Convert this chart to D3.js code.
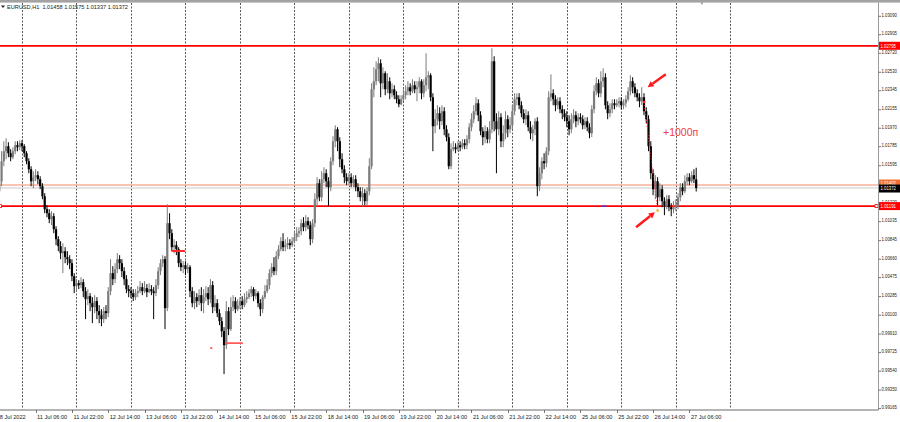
<!DOCTYPE html>
<html><head><meta charset="utf-8">
<script src="https://cdn.jsdelivr.net/npm/d3@7"></script>
<style>html,body{margin:0;padding:0;background:#fff;}svg{display:block;}</style>
</head><body>
<script>
// ===== DATA (EURUSD H1, 8 Jul 14:00 .. 27 Jul 09:00) =====
const title = "EURUSD,H1  1.01458 1.01575 1.01337 1.01372";
const open = [
1.0134,1.0144,1.0164,1.0174,1.0179,1.0172,1.0168,1.0174,1.0180,1.0178,
1.0182,1.0179,1.0172,1.0164,1.0156,1.0144,1.0148,1.0150,1.0146,1.0139,1.0129,1.0116,1.0112,1.0106,1.0109,1.0096,1.0086,1.0079,1.0072,1.0074,1.0068,1.0066,1.0062,1.0049,
1.0039,1.0042,1.0040,1.0043,1.0034,1.0026,1.0029,1.0022,1.0018,1.0024,1.0014,1.0010,1.0006,1.0014,1.0012,1.0034,1.0052,1.0046,1.0056,1.0066,1.0062,1.0054,1.0046,1.0036,
1.0034,1.0032,1.0028,1.0032,1.0034,1.0038,1.0034,1.0037,1.0033,1.0036,1.0034,1.0032,1.0040,1.0054,1.0062,1.0066,1.0017,1.0102,1.0092,1.0078,1.0080,1.0076,1.0062,1.0058,
1.0060,1.0056,1.0058,1.0034,1.0022,1.0028,1.0024,1.0030,1.0022,1.0028,1.0032,1.0026,1.0040,1.0018,1.0022,1.0012,1.0004,0.9994,0.9980,1.0014,0.9996,1.0018,1.0024,1.0016,
1.0020,1.0024,1.0020,1.0026,1.0028,1.0032,1.0036,1.0029,1.0032,1.0022,1.0016,1.0028,1.0034,1.0040,1.0052,1.0058,1.0054,1.0069,1.0076,1.0084,1.0078,1.0080,1.0082,1.0080,
1.0084,1.0088,1.0092,1.0094,1.0102,1.0098,1.0104,1.0100,1.0086,1.0102,1.0126,1.0142,1.0128,1.0146,1.0152,1.0144,1.0138,1.0164,1.0184,1.0196,1.0184,1.0166,1.0156,1.0148,
1.0144,1.0148,1.0142,1.0146,1.0138,1.0134,1.0128,1.0132,1.0124,1.0134,1.0159,1.0236,1.0244,1.0256,1.0262,1.0242,1.0252,1.0236,1.0244,1.0232,1.0236,1.0230,1.0226,1.0221,
1.0226,1.0230,1.0234,1.0238,1.0234,1.0240,1.0236,1.0238,1.0244,1.0232,1.0240,1.0248,1.0250,1.0228,1.0199,1.0206,1.0212,1.0204,1.0214,1.0196,1.0188,1.0159,1.0176,1.0178,
1.0176,1.0180,1.0178,1.0182,1.0180,1.0186,1.0198,1.0206,1.0214,1.0222,1.0210,1.0194,1.0188,1.0194,1.0186,1.0196,1.0264,1.0204,1.0196,1.0208,1.0184,1.0192,1.0206,1.0196,
1.0200,1.0214,1.0226,1.0228,1.0220,1.0212,1.0206,1.0210,1.0198,1.0192,1.0196,1.0204,1.0139,1.0152,1.0164,1.0162,1.0174,1.0228,1.0232,1.0226,1.0220,1.0224,1.0216,1.0212,
1.0208,1.0204,1.0196,1.0206,1.0210,1.0204,1.0208,1.0206,1.0200,1.0204,1.0198,1.0192,1.0216,1.0234,1.0242,1.0232,1.0244,1.0248,1.0220,1.0212,1.0216,1.0222,1.0220,1.0222,
1.0224,1.0220,1.0222,1.0226,1.0234,1.0244,1.0238,1.0232,1.0228,1.0224,1.0228,1.0214,1.0206,1.0179,1.0152,1.0136,1.0144,1.0128,1.0136,1.0124,1.0120,1.0126,1.0118,1.0116,
1.0118,1.0120,1.0128,1.0138,1.0134,1.0144,1.0148,1.0144,1.0150,1.01458];
const high = [
1.0152,1.0174,1.0184,1.0187,1.0183,1.0176,1.0178,1.0184,1.0184,1.0185,
1.0185,1.0181,1.0174,1.0167,1.0159,1.0154,1.0156,1.0154,1.0149,1.0142,1.0132,1.0120,1.0116,1.0114,1.0112,1.0099,1.0089,1.0084,1.0082,1.0078,1.0074,1.0070,1.0066,1.0052,
1.0046,1.0045,1.0048,1.0046,1.0038,1.0036,1.0032,1.0028,1.0030,1.0028,1.0020,1.0016,1.0018,1.0020,1.0038,1.0066,1.0059,1.0062,1.0072,1.0070,1.0066,1.0058,1.0050,1.0040,
1.0038,1.0036,1.0036,1.0039,1.0044,1.0042,1.0044,1.0041,1.0042,1.0040,1.0038,1.0046,1.0058,1.0066,1.0070,1.0069,1.0121,1.0112,1.0096,1.0086,1.0084,1.0078,1.0066,1.0064,
1.0064,1.0062,1.0060,1.0038,1.0034,1.0032,1.0036,1.0038,1.0036,1.0039,1.0038,1.0046,1.0044,1.0030,1.0026,1.0016,1.0008,0.9998,1.0024,1.0018,1.0028,1.0030,1.0028,1.0026,
1.0028,1.0029,1.0032,1.0034,1.0036,1.0039,1.0038,1.0036,1.0034,1.0026,1.0030,1.0040,1.0046,1.0056,1.0062,1.0068,1.0074,1.0080,1.0088,1.0092,1.0086,1.0088,1.0086,1.0088,
1.0094,1.0098,1.0098,1.0106,1.0108,1.0110,1.0108,1.0104,1.0106,1.0132,1.0148,1.0146,1.0154,1.0158,1.0156,1.0148,1.0168,1.0189,1.0200,1.0198,1.0188,1.0172,1.0160,1.0152,
1.0152,1.0152,1.0150,1.0150,1.0142,1.0138,1.0138,1.0136,1.0138,1.0167,1.0242,1.0258,1.0264,1.0268,1.0266,1.0258,1.0254,1.0252,1.0248,1.0242,1.0240,1.0234,1.0230,1.0230,
1.0236,1.0240,1.0244,1.0242,1.0246,1.0244,1.0244,1.0248,1.0246,1.0246,1.0272,1.0254,1.0252,1.0232,1.0216,1.0220,1.0218,1.0220,1.0218,1.0200,1.0192,1.0182,1.0184,1.0182,
1.0184,1.0184,1.0186,1.0186,1.0190,1.0202,1.0212,1.0220,1.0228,1.0226,1.0214,1.0198,1.0200,1.0198,1.0204,1.0277,1.0269,1.0212,1.0214,1.0212,1.0200,1.0214,1.0210,1.0208,
1.0220,1.0232,1.0232,1.0232,1.0224,1.0216,1.0216,1.0214,1.0204,1.0200,1.0207,1.0208,1.0158,1.0168,1.0172,1.0178,1.0234,1.0251,1.0236,1.0230,1.0228,1.0228,1.0220,1.0216,
1.0214,1.0210,1.0212,1.0216,1.0214,1.0212,1.0212,1.0210,1.0208,1.0208,1.0202,1.0220,1.0240,1.0248,1.0246,1.0254,1.0257,1.0252,1.0224,1.0222,1.0226,1.0226,1.0226,1.0228,
1.0228,1.0226,1.0230,1.0238,1.0250,1.0248,1.0242,1.0236,1.0232,1.0238,1.0232,1.0218,1.0210,1.0184,1.0156,1.0150,1.0148,1.0142,1.0140,1.0128,1.0130,1.0130,1.0122,1.0124,
1.0126,1.0132,1.0142,1.0142,1.0150,1.0152,1.0152,1.0154,1.0156,1.01575];
const low = [
1.0114,1.0139,1.0159,1.0166,1.0168,1.0164,1.0166,1.0171,1.0174,1.0175,
1.0174,1.0168,1.0161,1.0152,1.0139,1.0137,1.0144,1.0141,1.0136,1.0126,1.0112,1.0108,1.0102,1.0100,1.0092,1.0080,1.0074,1.0066,1.0052,1.0062,1.0060,1.0056,1.0044,1.0032,
1.0034,1.0036,1.0037,1.0028,1.0006,1.0020,1.0014,1.0002,1.0012,1.0006,1.0002,0.9999,1.0002,1.0006,1.0008,1.0030,1.0040,1.0042,1.0052,1.0056,1.0048,1.0040,1.0032,1.0028,
1.0027,1.0024,1.0025,1.0028,1.0032,1.0030,1.0032,1.0028,1.0032,1.0030,1.0006,1.0029,1.0036,1.0050,1.0058,0.9996,1.0014,1.0086,1.0074,1.0072,1.0070,1.0058,1.0054,1.0052,
1.0050,1.0052,1.0028,1.0018,1.0016,1.0018,1.0020,1.0014,1.0012,1.0024,1.0020,1.0022,1.0012,1.0014,1.0008,1.0000,0.9988,0.9951,0.9976,0.9990,0.9994,1.0014,1.0012,1.0014,
1.0016,1.0016,1.0018,1.0022,1.0026,1.0028,1.0024,1.0026,1.0018,1.0009,1.0012,1.0026,1.0032,1.0036,1.0048,1.0050,1.0050,1.0066,1.0074,1.0074,1.0074,1.0076,1.0076,1.0078,
1.0082,1.0084,1.0088,1.0090,1.0094,1.0094,1.0096,1.0080,1.0082,1.0098,1.0119,1.0124,1.0124,1.0142,1.0138,1.0119,1.0134,1.0160,1.0178,1.0174,1.0158,1.0152,1.0142,1.0140,
1.0140,1.0138,1.0138,1.0134,1.0128,1.0124,1.0119,1.0120,1.0120,1.0130,1.0156,1.0228,1.0240,1.0244,1.0228,1.0236,1.0230,1.0232,1.0226,1.0228,1.0226,1.0222,1.0218,1.0220,
1.0224,1.0226,1.0230,1.0230,1.0232,1.0232,1.0224,1.0232,1.0226,1.0228,1.0234,1.0236,1.0224,1.0174,1.0192,1.0200,1.0196,1.0200,1.0190,1.0184,1.0156,1.0156,1.0174,1.0172,
1.0174,1.0174,1.0176,1.0176,1.0176,1.0182,1.0194,1.0202,1.0210,1.0204,1.0190,1.0180,1.0182,1.0182,1.0182,1.0192,1.0194,1.0152,1.0190,1.0178,1.0178,1.0186,1.0188,1.0192,
1.0196,1.0210,1.0220,1.0216,1.0208,1.0202,1.0200,1.0194,1.0186,1.0184,1.0190,1.0129,1.0134,1.0146,1.0156,1.0158,1.0170,1.0224,1.0220,1.0214,1.0216,1.0212,1.0206,1.0204,
1.0198,1.0190,1.0192,1.0202,1.0198,1.0200,1.0202,1.0196,1.0196,1.0194,1.0187,1.0188,1.0212,1.0230,1.0228,1.0228,1.0238,1.0216,1.0206,1.0208,1.0212,1.0216,1.0218,1.0218,
1.0216,1.0216,1.0218,1.0224,1.0230,1.0232,1.0228,1.0224,1.0218,1.0220,1.0210,1.0202,1.0174,1.0146,1.0130,1.0126,1.0120,1.0124,1.0118,1.0110,1.0116,1.0114,1.0109,1.0112,
1.0114,1.0116,1.0124,1.0130,1.0132,1.0140,1.0140,1.0142,1.0142,1.01337];
const close = [
1.0144,1.0164,1.0174,1.0179,1.0172,1.0168,1.0174,1.0180,1.0178,1.0182,
1.0179,1.0172,1.0164,1.0156,1.0144,1.0148,1.0150,1.0146,1.0139,1.0129,1.0116,1.0112,1.0106,1.0109,1.0096,1.0086,1.0079,1.0072,1.0074,1.0068,1.0066,1.0062,1.0049,1.0039,
1.0042,1.0040,1.0043,1.0034,1.0026,1.0029,1.0022,1.0018,1.0024,1.0014,1.0010,1.0006,1.0014,1.0012,1.0034,1.0052,1.0046,1.0056,1.0066,1.0062,1.0054,1.0046,1.0036,1.0034,
1.0032,1.0028,1.0032,1.0034,1.0038,1.0034,1.0037,1.0033,1.0036,1.0034,1.0032,1.0040,1.0054,1.0062,1.0066,1.0017,1.0102,1.0092,1.0078,1.0080,1.0076,1.0062,1.0058,1.0060,
1.0056,1.0058,1.0034,1.0022,1.0028,1.0024,1.0030,1.0022,1.0028,1.0032,1.0026,1.0040,1.0018,1.0022,1.0012,1.0004,0.9994,0.9980,1.0014,0.9996,1.0018,1.0024,1.0016,1.0020,
1.0024,1.0020,1.0026,1.0028,1.0032,1.0036,1.0029,1.0032,1.0022,1.0016,1.0028,1.0034,1.0040,1.0052,1.0058,1.0054,1.0069,1.0076,1.0084,1.0078,1.0080,1.0082,1.0080,1.0084,
1.0088,1.0092,1.0094,1.0102,1.0098,1.0104,1.0100,1.0086,1.0102,1.0126,1.0142,1.0128,1.0146,1.0152,1.0144,1.0138,1.0164,1.0184,1.0196,1.0184,1.0166,1.0156,1.0148,1.0144,
1.0148,1.0142,1.0146,1.0138,1.0134,1.0128,1.0132,1.0124,1.0134,1.0159,1.0236,1.0244,1.0256,1.0262,1.0242,1.0252,1.0236,1.0244,1.0232,1.0236,1.0230,1.0226,1.0221,1.0226,
1.0230,1.0234,1.0238,1.0234,1.0240,1.0236,1.0238,1.0244,1.0232,1.0240,1.0248,1.0250,1.0228,1.0199,1.0206,1.0212,1.0204,1.0214,1.0196,1.0188,1.0159,1.0176,1.0178,1.0176,
1.0180,1.0178,1.0182,1.0180,1.0186,1.0198,1.0206,1.0214,1.0222,1.0210,1.0194,1.0188,1.0194,1.0186,1.0196,1.0264,1.0204,1.0196,1.0208,1.0184,1.0192,1.0206,1.0196,1.0200,
1.0214,1.0226,1.0228,1.0220,1.0212,1.0206,1.0210,1.0198,1.0192,1.0196,1.0204,1.0139,1.0152,1.0164,1.0162,1.0174,1.0228,1.0232,1.0226,1.0220,1.0224,1.0216,1.0212,1.0208,
1.0204,1.0196,1.0206,1.0210,1.0204,1.0208,1.0206,1.0200,1.0204,1.0198,1.0192,1.0216,1.0234,1.0242,1.0232,1.0244,1.0248,1.0220,1.0212,1.0216,1.0222,1.0220,1.0222,1.0224,
1.0220,1.0222,1.0226,1.0234,1.0244,1.0238,1.0232,1.0228,1.0224,1.0228,1.0214,1.0206,1.0179,1.0152,1.0136,1.0144,1.0128,1.0136,1.0124,1.0120,1.0126,1.0118,1.0116,1.0118,
1.0120,1.0128,1.0138,1.0134,1.0144,1.0148,1.0144,1.0150,1.0146,1.01372];

// day separators (bar index of each day's 00:00)
const dayStartBars = [10,34,58,82,106,130,154,178,202,226,250,274,298,322];
// time-axis labels and the bar index they belong to
const timeLabels = ["8 Jul 2022","11 Jul 06:00","11 Jul 22:00","12 Jul 14:00","13 Jul 06:00","13 Jul 22:00","14 Jul 14:00","15 Jul 06:00","15 Jul 22:00","18 Jul 14:00","19 Jul 06:00","19 Jul 22:00","20 Jul 14:00","21 Jul 06:00","21 Jul 22:00","22 Jul 14:00","25 Jul 06:00","25 Jul 22:00","26 Jul 14:00","27 Jul 06:00"];
const timeLabelBars = [0,16,32,48,64,80,96,112,128,144,160,176,192,208,224,240,256,272,288,304];
// price-axis labels
const priceLabels = ["1.03090","1.02905","1.02720","1.02530","1.02345","1.02155","1.01970","1.01785","1.01595","1.01410","1.01220","1.01035","1.00845","1.00660","1.00475","1.00285","1.00100","0.99910","0.99725","0.99540","0.99350","0.99165"];
// horizontal levels
const levelPrices = [1.02795, 1.01191];
const levelTexts = ["1.02795","1.01191"];
const orangeLevel = 1.01402;
const bidPrice = 1.01372;
// annotations (bar index, price)
const note = {text:"+1000п", bar:292.4, price:1.0193};
const arrowDown = {fromBar:293.6, fromPrice:1.0251, toBar:285.6, toPrice:1.0238};
const arrowUp = {fromBar:280.5, fromPrice:1.0098, toBar:288.8, toPrice:1.0113};
const tradeMarks = [{b0:76, b1:81.8, price:1.00742, color:"#ff2a2a"},{b0:99.4, b1:107.3, price:0.99821, color:"#ff5a5a"}];
const tradeDot = {bar:93.3, price:0.99770};
const tradeLine = {b0:284, p0:1.02232, b1:290, p1:1.01145};
const shiftMarkerBar = 309.5;

// ===== DRAW =====
const W = 900, H = 422;
const plotRight = 878, plotTop = 3, plotBottom = 409.5;
const FONT = "'Liberation Sans', Arial, sans-serif";

const x = d3.scaleLinear().domain([0, 307]).range([-0.7, 696.2]);
const y = d3.scaleLinear().domain([0.99165, 1.03090]).range([408.6, 16.3]);

const svg = d3.select("body").append("svg").attr("width", W).attr("height", H);
svg.append("rect").attr("width", W).attr("height", H).attr("fill", "#fff");

svg.append("defs").append("clipPath").attr("id", "plot")
  .append("rect").attr("x", 0).attr("y", plotTop).attr("width", plotRight).attr("height", plotBottom - plotTop);

const g = svg.append("g").attr("clip-path", "url(#plot)");

// vertical day grid
g.selectAll("line.grid").data(dayStartBars).join("line")
  .attr("x1", d => Math.round(x(d)) + 0.5).attr("x2", d => Math.round(x(d)) + 0.5)
  .attr("y1", plotTop).attr("y2", plotBottom)
  .attr("stroke", "#5a5a5a").attr("stroke-width", 1).attr("stroke-dasharray", "2,1.5");

// level lines
g.append("line").attr("x1", 0).attr("x2", plotRight).attr("y1", y(orangeLevel)).attr("y2", y(orangeLevel))
  .attr("stroke", "#f7b299").attr("stroke-width", 1.6);
g.append("line").attr("x1", 0).attr("x2", plotRight).attr("y1", y(bidPrice)).attr("y2", y(bidPrice))
  .attr("stroke", "#c8c8c8").attr("stroke-width", 1);
g.selectAll("line.lvl").data(levelPrices).join("line")
  .attr("x1", 0).attr("x2", plotRight).attr("y1", d => y(d)).attr("y2", d => y(d))
  .attr("stroke", "#ff0000").attr("stroke-width", 1.8);

// candles
const bars = d3.range(close.length).map(i => ({i, o: open[i], h: high[i], l: low[i], c: close[i]}));
const bullCol = "#7c7c7c", bearCol = "#000";
g.selectAll("line.wick").data(bars).join("line")
  .attr("x1", d => x(d.i)).attr("x2", d => x(d.i))
  .attr("y1", d => y(d.h)).attr("y2", d => y(d.l))
  .attr("stroke", d => d.c >= d.o ? bullCol : bearCol).attr("stroke-width", 1);
g.selectAll("rect.body").data(bars).join("rect")
  .attr("x", d => x(d.i) - 1.1).attr("width", 2.2)
  .attr("y", d => y(Math.max(d.o, d.c)))
  .attr("height", d => Math.max(1, Math.abs(y(d.o) - y(d.c))))
  .attr("fill", d => d.c >= d.o ? bullCol : bearCol);

// trade marks
g.selectAll("line.trade").data(tradeMarks).join("line")
  .attr("x1", d => x(d.b0)).attr("x2", d => x(d.b1)).attr("y1", d => y(d.price)).attr("y2", d => y(d.price))
  .attr("stroke", d => d.color).attr("stroke-width", 1.8);
g.append("rect").attr("x", x(tradeDot.bar) - 1).attr("y", y(tradeDot.price) - 0.8).attr("width", 2.2).attr("height", 1.6).attr("fill", "#ff5050");
g.append("line").attr("x1", x(tradeLine.b0)).attr("y1", y(tradeLine.p0)).attr("x2", x(tradeLine.b1)).attr("y2", y(tradeLine.p1))
  .attr("stroke", "#ff2020").attr("stroke-width", 1).attr("stroke-dasharray", "1,2");
g.append("rect").attr("x", x(tradeLine.b0) - 1.2).attr("y", y(tradeLine.p0) - 1.2).attr("width", 2.4).attr("height", 2.4).attr("fill", "#ff2020");
g.append("rect").attr("x", x(tradeLine.b1) - 1.2).attr("y", y(tradeLine.p1) - 1.2).attr("width", 2.4).attr("height", 2.4).attr("fill", "#f0c040");
g.append("line").attr("x1", x(265.5)).attr("x2", x(267.5)).attr("y1", y(levelPrices[1])).attr("y2", y(levelPrices[1]))
  .attr("stroke", "#3040ff").attr("stroke-width", 1.2);

// level end squares
g.append("rect").attr("x", -1.5).attr("y", y(levelPrices[1]) - 1.5).attr("width", 3).attr("height", 3)
  .attr("fill", "#fff").attr("stroke", "#ff0000").attr("stroke-width", 0.8);
svg.append("rect").attr("x", plotRight - 3).attr("y", y(levelPrices[1]) - 1.5).attr("width", 3).attr("height", 3)
  .attr("fill", "#fff").attr("stroke", "#ff0000").attr("stroke-width", 0.8);

// arrows
function arrow(a) {
  const x0 = x(a.fromBar), y0 = y(a.fromPrice), x1 = x(a.toBar), y1 = y(a.toPrice);
  const ang = Math.atan2(y1 - y0, x1 - x0), len = 6, wd = 3.2;
  const bx = x1 - len * Math.cos(ang), by = y1 - len * Math.sin(ang);
  g.append("line").attr("x1", x0).attr("y1", y0).attr("x2", bx).attr("y2", by)
    .attr("stroke", "#ff1a1a").attr("stroke-width", 2.4);
  const px = -Math.sin(ang) * wd, py = Math.cos(ang) * wd;
  g.append("path").attr("d", `M${x1},${y1}L${bx + px},${by + py}L${bx - px},${by - py}Z`).attr("fill", "#ff1a1a");
}
arrow(arrowDown); arrow(arrowUp);

g.append("text").attr("x", x(note.bar)).attr("y", y(note.price)).attr("dy", "0.35em")
  .attr("font-family", FONT).attr("font-size", 10.5).attr("fill", "#ec3b3b").text(note.text);

// top bar & shift marker
svg.append("rect").attr("x", 0).attr("y", 0).attr("width", W).attr("height", 2.6).attr("fill", "#a3a3a3");
svg.append("path").attr("d", `M${x(shiftMarkerBar) - 1.5},2.6L${x(shiftMarkerBar) + 1.5},2.6L${x(shiftMarkerBar)},5Z`).attr("fill", "#9a9a9a");

// axes frame
svg.append("line").attr("x1", plotRight + 0.5).attr("x2", plotRight + 0.5).attr("y1", 2.6).attr("y2", plotBottom + 0.5)
  .attr("stroke", "#9a9a9a").attr("stroke-width", 1);
svg.append("line").attr("x1", 0).attr("x2", plotRight + 0.5).attr("y1", plotBottom + 0.5).attr("y2", plotBottom + 0.5)
  .attr("stroke", "#6a6a6a").attr("stroke-width", 1);

// price axis (labels squeezed into the narrow strip, as in the terminal)
const labelW = 15.5;
const pa = svg.append("g");
pa.selectAll("line").data(priceLabels).join("line")
  .attr("x1", plotRight + 0.5).attr("x2", plotRight + 3).attr("y1", d => y(+d)).attr("y2", d => y(+d))
  .attr("stroke", "#555").attr("stroke-width", 0.8);
pa.selectAll("text").data(priceLabels).join("text")
  .attr("x", plotRight + 3.5).attr("y", d => y(+d) - 1.3).attr("dy", "0.35em")
  .attr("font-family", FONT).attr("font-size", 5.4).attr("fill", "#222")
  .attr("textLength", labelW).attr("lengthAdjust", "spacingAndGlyphs").text(d => d);

// price boxes
function priceBox(price, txt, fill, color, dyOff) {
  const cy = y(price) + (dyOff || 0);
  svg.append("rect").attr("x", plotRight + 1).attr("y", cy - 4).attr("width", W - plotRight).attr("height", 8).attr("fill", fill);
  svg.append("text").attr("x", plotRight + 2.5).attr("y", cy).attr("dy", "0.35em")
    .attr("font-family", FONT).attr("font-size", 5.4).attr("fill", color)
    .attr("textLength", labelW).attr("lengthAdjust", "spacingAndGlyphs").text(txt);
}
priceBox(orangeLevel, orangeLevel.toFixed(5), "#f06f35", "#fff", -1.5);
priceBox(bidPrice, bidPrice.toFixed(5), "#000", "#fff", 0.5);
priceBox(levelPrices[0], levelTexts[0], "#ff0000", "#fff", 0);
priceBox(levelPrices[1], levelTexts[1], "#ff0000", "#fff", 0);

// time axis
const ta = svg.append("g");
ta.selectAll("line").data(timeLabelBars).join("line")
  .attr("x1", d => Math.round(x(d)) + 0.5).attr("x2", d => Math.round(x(d)) + 0.5)
  .attr("y1", plotBottom + 0.5).attr("y2", plotBottom + 3.5).attr("stroke", "#555").attr("stroke-width", 0.8);
ta.selectAll("text").data(timeLabels).join("text")
  .attr("x", (d, i) => i === 0 ? x(timeLabelBars[i]) + 0.5 : x(timeLabelBars[i]) + 1.5)
  .attr("y", 418.5)
  .attr("font-family", FONT).attr("font-size", 5.6).attr("fill", "#222").text(d => d);

// header
svg.append("path").attr("d", "M1,5.5L5,5.5L3,8Z").attr("fill", "#222");
svg.append("text").attr("x", 7).attr("y", 9.2).attr("font-family", FONT).attr("font-size", 5.6)
  .attr("fill", "#222").attr("xml:space", "preserve").text(title);
</script>
</body></html>
